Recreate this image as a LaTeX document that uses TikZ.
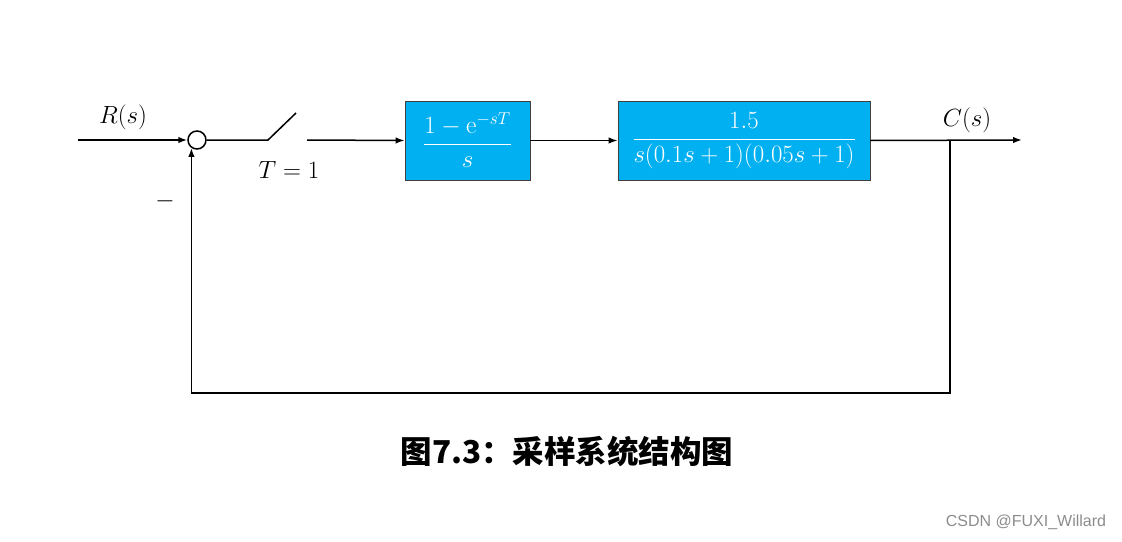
\documentclass[tikz,border=0pt]{standalone}
\usepackage{amsmath}
\usepackage{fontspec}
\newfontfamily\cjk{Noto Sans CJK SC}
\newfontfamily\wm{Liberation Sans}
\usetikzlibrary{arrows.meta}
\definecolor{boxblue}{HTML}{00B0F0}
\begin{document}
\begin{tikzpicture}[x=1pt,y=-1pt,line width=1.5pt,
  arr/.style={-{Latex[length=9pt,width=6.5pt]}},
  blk/.style={draw=black!75,line width=0.8pt,fill=boxblue,text=white,inner sep=0pt,
    font=\fontsize{25.5}{30}\selectfont},
  lbl/.style={inner sep=0pt,font=\fontsize{24.5}{29}\selectfont}]
\useasboundingbox (0,0) rectangle (1122,541);
\node[circle,draw,minimum size=18pt,inner sep=0pt] (sum) at (197,140) {};
\coordinate (in) at (78,140);
\coordinate (sw1) at (268,140);
\coordinate (sw2) at (296,113);
\coordinate (sw3) at (307,140);
\node[blk,minimum width=125pt,minimum height=79pt] (b1) at (467.5,140.5)
  {$\dfrac{1-\mathrm{e}^{-sT}}{s}$};
\node[blk,minimum width=252pt,minimum height=79pt] (b2) at (744,140.5)
  {$\dfrac{1.5}{s(0.1s+1)(0.05s+1)}$};
\coordinate (out) at (1022,140);
\coordinate (br) at (950,140);
\coordinate (c1) at (950,393);
\node[lbl] (R) at (123,117) {$R(s)$};
\node[lbl] (T) at (289,170) {$T=1$};
\node[lbl] (C) at (967,120) {$C(s)$};
\node[lbl] (m) at (165,201) {$-$};
\draw[arr] (in) -- (sum.west);
\draw (sum.east) -- (sw1) -- (sw2);
\draw[arr] (sw3) -- (b1.west);
\draw[arr] (b1.east) -- (b2.west);
\draw[arr] (b2.east) -- (out);
\draw[arr] (br) -- (c1) -| (sum.235);
\node[inner sep=0pt,font=\cjk\bfseries\fontsize{31.5}{36}\selectfont] (cap) at (567,451) {图7.3：采样系统结构图};
\node[inner sep=0pt,text=black!45,font=\wm\fontsize{16}{18}\selectfont] (wmk) at (1026,522) {CSDN @FUXI\_Willard};
\end{tikzpicture}
\end{document}
